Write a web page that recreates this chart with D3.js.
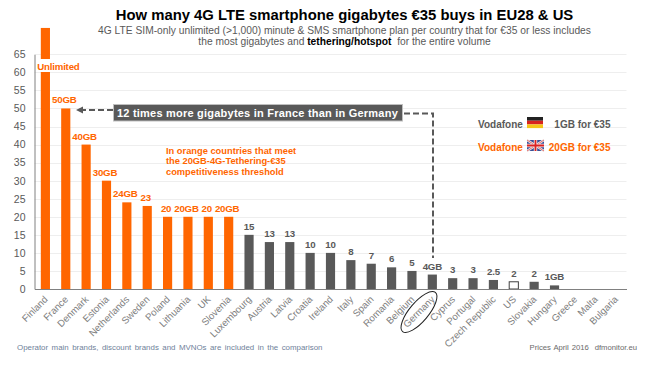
<!DOCTYPE html>
<html><head><meta charset="utf-8">
<script src="https://cdnjs.cloudflare.com/ajax/libs/d3/7.8.5/d3.min.js"></script>
<style>
html,body{margin:0;padding:0;background:#fff}
svg{display:block}
text{font-family:"Liberation Sans",Arial,sans-serif}
</style></head><body>
<script>
const countries=["Finland","France","Denmark","Estonia","Netherlands","Sweden","Poland","Lithuania","UK","Slovenia","Luxembourg","Austria","Latvia","Croatia","Ireland","Italy","Spain","Romania","Belgium","Germany","Cyprus","Portugal","Czech Republic","US","Slovakia","Hungary","Greece","Malta","Bulgaria"];
const gigabytes=[72.3,50,40,30,24,23,20,20,20,20,15,13,13,10,10,8,7,6,5,4,3,3,2.5,2,2,1,0,0,0];
const valueLabels=["Unlimited","50GB","40GB","30GB","24GB","23","20","20GB","20","20GB","15","13","13","10","10","8","7","6","5","4GB","3","3","2.5","2","2","1GB","","",""];
const meetsThreshold=[1,1,1,1,1,1,1,1,1,1,0,0,0,0,0,0,0,0,0,0,0,0,0,0,0,0,0,0,0];
const hollowBars=["US"];
const yTicks=d3.range(0,70,5);
const noteLines=["In orange countries that meet","the 20GB-4G-Tethering-€35","competitiveness threshold"];
const ORANGE="#ff6600",GREY="#595959",TXT="#595959";

const svg=d3.select("body").append("svg").attr("width",658).attr("height",366);
const x=d3.scaleBand().domain(countries).range([34.5,626.5]).paddingInner(0.55).paddingOuter(0.31);
const y=d3.scaleLinear().domain([0,65]).range([289,54.3]);

// grid
svg.append("g").selectAll("line").data(yTicks.slice(1)).join("line")
 .attr("x1",34.5).attr("x2",626.5).attr("y1",d=>Math.round(y(d))+.5).attr("y2",d=>Math.round(y(d))+.5)
 .attr("stroke","#eeeeee").attr("stroke-width",1);

// bars
svg.append("g").selectAll("rect").data(countries).join("rect")
 .attr("x",d=>x(d)).attr("width",x.bandwidth())
 .attr("y",(d,i)=>y(gigabytes[i])).attr("height",(d,i)=>y(0)-y(gigabytes[i]))
 .attr("fill",(d,i)=>hollowBars.includes(d)?"#fff":meetsThreshold[i]?ORANGE:GREY)
 .attr("stroke",d=>hollowBars.includes(d)?"#404040":"none").attr("stroke-width",1);

// axes
const yAxis=d3.axisLeft(y).tickValues(yTicks).tickSize(0).tickPadding(9);
const gy=svg.append("g").attr("transform","translate(34.5,0)").call(yAxis);
gy.select(".domain").attr("stroke","#808080").attr("stroke-width",1);
gy.selectAll("text").attr("font-size",10.5).attr("fill",TXT).style("font-family","'Liberation Sans',Arial,sans-serif");
const xAxis=d3.axisBottom(x).tickSize(0).tickPadding(0);
const gx=svg.append("g").attr("transform","translate(0,289)").call(xAxis);
gx.select(".domain").attr("stroke","#808080").attr("stroke-width",1);
gx.selectAll("text").attr("font-size",9.7).attr("fill","#808080").attr("text-anchor","end")
 .attr("dy",0).attr("y",0).attr("x",0)
 .attr("transform","translate(3,11) rotate(-45)").style("font-family","'Liberation Sans',Arial,sans-serif");

// value labels
svg.append("rect").attr("x",36).attr("y",59).attr("width",46).attr("height",13).attr("fill","#fff");
svg.append("g").selectAll("text").data(countries).join("text")
 .attr("x",(d,i)=>x(d)+x.bandwidth()/2-(i===0?-13:i<10?1.5:0))
 .attr("y",(d,i)=>i===0?y(60)-2.8:y(gigabytes[i])-5)
 .attr("text-anchor","middle").attr("font-size",9.7).attr("font-weight","bold").attr("letter-spacing",-0.2)
 .attr("fill",(d,i)=>meetsThreshold[i]?ORANGE:TXT)
 .text((d,i)=>valueLabels[i]);

// title
svg.append("text").attr("x",344.5).attr("y",20).attr("text-anchor","middle").attr("font-size",14.85).attr("font-weight","bold").attr("fill","#000")
 .text("How many 4G LTE smartphone gigabytes €35 buys in EU28 & US");
svg.append("text").attr("x",344.5).attr("y",33.5).attr("text-anchor","middle").attr("font-size",10.25).attr("fill",TXT)
 .text("4G LTE SIM-only unlimited (>1,000) minute & SMS smartphone plan per country that for €35 or less includes");
const sub2=svg.append("text").attr("x",344.5).attr("y",44.5).attr("text-anchor","middle").attr("font-size",10.25).attr("fill",TXT);
sub2.append("tspan").text("the most gigabytes and ");
sub2.append("tspan").attr("font-weight","bold").attr("fill","#000").text("tethering/hotspot");
sub2.append("tspan").text("\u00a0\u00a0for the entire volume");

// callout
const dash={stroke:"#595959","stroke-width":2,"stroke-dasharray":"6 3",fill:"none"};
const p1=svg.append("path").attr("d","M113,110H82");
const p2=svg.append("path").attr("d","M404,113.5H433V258");
[p1,p2].forEach(p=>Object.entries(dash).forEach(([k,v])=>p.attr(k,v)));
svg.append("path").attr("d","M76,110L83,106.5V113.5Z").attr("fill","#595959");
svg.append("rect").attr("x",113.5).attr("y",104.5).attr("width",289).attr("height",16.5).attr("fill","#595959").attr("stroke","#bfbfbf").attr("stroke-width",1);
svg.append("text").attr("x",257.5).attr("y",116.5).attr("text-anchor","middle").attr("font-size",11).attr("font-weight","bold").attr("fill","#fff").attr("letter-spacing",0.22)
 .text("12 times more gigabytes in France than in Germany");

// orange note
svg.append("g").selectAll("text").data(noteLines).join("text")
 .attr("x",166).attr("y",(d,i)=>153.5+i*10.7).attr("font-size",9.3).attr("font-weight","bold").attr("fill",ORANGE).text(d=>d);

// Vodafone rows
svg.append("text").attr("x",478).attr("y",127.5).attr("font-size",10).attr("font-weight","bold").attr("fill",TXT).text("Vodafone");
svg.append("text").attr("x",610.5).attr("y",127.5).attr("text-anchor","end").attr("font-size",10).attr("font-weight","bold").attr("fill",TXT).text("1GB for €35");
svg.append("text").attr("x",478).attr("y",150.5).attr("font-size",10).attr("font-weight","bold").attr("fill",ORANGE).text("Vodafone");
svg.append("text").attr("x",610.5).attr("y",150.5).attr("text-anchor","end").attr("font-size",10).attr("font-weight","bold").attr("fill",ORANGE).text("20GB for €35");

// flags
const de=svg.append("g").attr("transform","translate(527,117)");
[["#222",0],["#d8231f",3.7],["#f5c518",7.4]].forEach(([c,o])=>de.append("rect").attr("y",o).attr("width",16).attr("height",3.7).attr("fill",c));
const uk=svg.append("g").attr("transform","translate(527,140)");
uk.append("rect").attr("width",17).attr("height",11).attr("fill","#3a4f96");
uk.append("path").attr("d","M0,0L17,11M17,0L0,11").attr("stroke","#eee").attr("stroke-width",2.2);
uk.append("path").attr("d","M0,0L17,11M17,0L0,11").attr("stroke","#d33").attr("stroke-width",.7);
uk.append("path").attr("d","M8.5,0V11M0,5.5H17").attr("stroke","#eee").attr("stroke-width",3.4);
uk.append("path").attr("d","M8.5,0V11M0,5.5H17").attr("stroke","#d22").attr("stroke-width",1.8);

// Germany ellipse
svg.append("ellipse").attr("cx",419).attr("cy",312).attr("rx",25.5).attr("ry",9.5)
 .attr("transform","rotate(-50 419 312)").attr("fill","none").attr("stroke","#222").attr("stroke-width",1);

// footers
svg.append("text").attr("x",17).attr("y",350).attr("font-size",7.9).attr("fill","#6f7f9a").attr("word-spacing",1.25)
 .text("Operator main brands, discount brands and MVNOs are included in the comparison");
svg.append("text").attr("x",637).attr("y",350).attr("text-anchor","end").attr("font-size",7.7).attr("fill","#6a6a6a").attr("word-spacing",0.8)
 .text("Prices April 2016\u00a0\u00a0dfmonitor.eu");
</script>
</body></html>
